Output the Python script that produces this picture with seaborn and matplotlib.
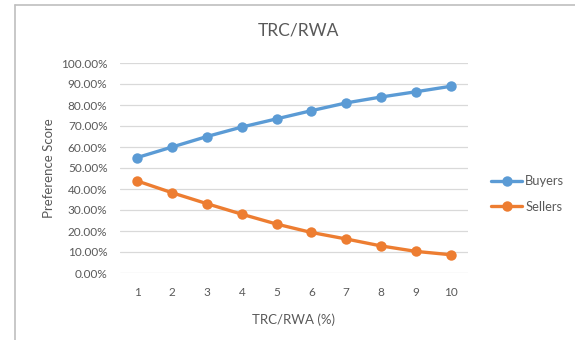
import numpy as np
import pandas as pd
import matplotlib
matplotlib.use("Agg")
import matplotlib.pyplot as plt
from matplotlib.ticker import PercentFormatter
from matplotlib.lines import Line2D
import seaborn as sns

# ---- data ----
categories = [1, 2, 3, 4, 5, 6, 7, 8, 9, 10]
buyers = [55.0, 60.0, 65.0, 69.5, 73.4, 77.3, 81.0, 83.8, 86.3, 88.9]
sellers = [43.8, 38.2, 33.0, 28.0, 23.3, 19.3, 16.2, 12.9, 10.3, 8.7]
series_names = ["Buyers", "Sellers"]
yticks = [0, 10, 20, 30, 40, 50, 60, 70, 80, 90, 100]
title = "TRC/RWA"
xlabel = "TRC/RWA (%)"
ylabel = "Preference Score"

df = pd.DataFrame({
    "x": categories * 2,
    "score": buyers + sellers,
    "series": [series_names[0]] * len(categories) + [series_names[1]] * len(categories),
})

sns.set_theme(style="white")
plt.rcParams["font.family"] = ["Lato", "DejaVu Sans"]

txt = "#595959"
fig = plt.figure(figsize=(5.75, 3.4), dpi=100)
W, H = 575, 340
ax = fig.add_axes([120 / W, 1 - 273 / H, 348 / W, 210 / H])

sns.lineplot(data=df, x="x", y="score", hue="series",
             palette=["#5B9BD5", "#ED7D31"], marker="o", markersize=7.5,
             markeredgewidth=0, linewidth=2.4, ax=ax, legend=True)

ax.set_xlim(0.5, 10.5)
ax.set_ylim(0, 100)
ax.set_xticks(categories)
ax.set_xticklabels([str(c) for c in categories])
ax.set_yticks(yticks)
ax.yaxis.set_major_formatter(PercentFormatter(100, decimals=2))
ax.grid(axis="y", color="#D9D9D9", linewidth=0.9)
ax.set_axisbelow(True)
for s in ax.spines.values():
    s.set_visible(False)
ax.tick_params(axis="both", length=0, labelsize=8.5, labelcolor=txt, pad=10)
ax.tick_params(axis="y", pad=9)

ax.set_xlabel(xlabel, fontsize=9.5, color=txt, labelpad=11)
ax.set_ylabel(ylabel, fontsize=9.5, color=txt, labelpad=4)
fig.text(298 / W, 1 - 31 / H, title, ha="center", va="center", fontsize=12.5, color=txt)

handles, labels = ax.get_legend_handles_labels()
leg = ax.legend(handles, labels, loc="center left",
                bbox_to_anchor=(491 / W, 1 - 194 / H), bbox_transform=fig.transFigure,
                frameon=False, fontsize=9.3, handlelength=2.4, handletextpad=0.25,
                labelspacing=1.05, labelcolor=txt, borderaxespad=0, borderpad=0)

# outer chart border (left and top visible)
fig.add_artist(Line2D([15 / W, 15 / W], [0, 1 - 5 / H], transform=fig.transFigure,
                      color="#BFBFBF", linewidth=1.2))
fig.add_artist(Line2D([15 / W, 1], [1 - 5 / H, 1 - 5 / H], transform=fig.transFigure,
                      color="#BFBFBF", linewidth=1.2))

fig.savefig("out.png", dpi=100)
